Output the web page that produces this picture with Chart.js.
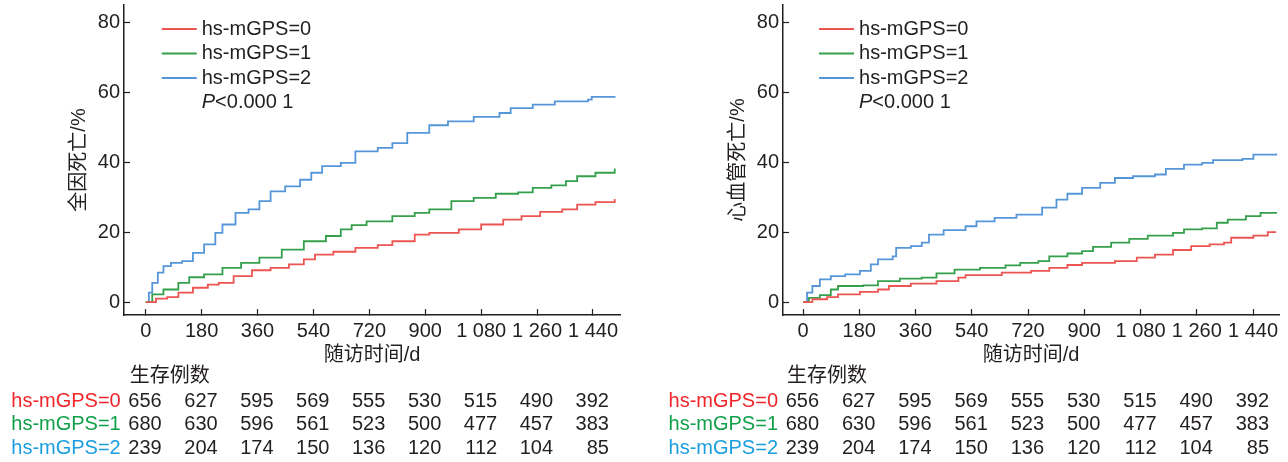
<!DOCTYPE html>
<html>
<head>
<meta charset="utf-8">
<script src="https://cdn.jsdelivr.net/npm/chart.js@4.4.0/dist/chart.umd.min.js"></script>
<style>
html, body { margin: 0; padding: 0; background: #fff; }
#wrap { position: relative; width: 1288px; height: 462px; }
.panel { position: absolute; top: 0; height: 462px; }
#p1 { left: 0; width: 640px; }
#p2 { left: 640px; width: 648px; }
</style>
</head>
<body>
<div id="wrap">
  <div class="panel" id="p1"><canvas id="c1"></canvas></div>
  <div class="panel" id="p2"><canvas id="c2"></canvas></div>
</div>
<script>
// groups / legend
const groups = ['hs-mGPS=0', 'hs-mGPS=1', 'hs-mGPS=2'];
const lineColors = ['#ec5551', '#34a04c', '#5596d9'];
const labelColors = ['#f0262b', '#10a04a', '#1a9ee0'];
const pText = '<0.000 1';

// follow-up time ticks (days)
const xTicks = [0, 180, 360, 540, 720, 900, 1080, 1260, 1440];
const yTicks = [0, 20, 40, 60, 80];

// number at risk
const riskTitle = '生存例数';
const risk0 = [656, 627, 595, 569, 555, 530, 515, 490, 392];
const risk1 = [680, 630, 596, 561, 523, 500, 477, 457, 383];
const risk2 = [239, 204, 174, 150, 136, 120, 112, 104, 85];

// all-cause death, cumulative %
const allDays0 = [0, 33, 69, 105, 152, 200, 235, 283, 342, 402, 461, 509, 545, 604, 675, 747, 794, 866, 913, 1008, 1080, 1151, 1210, 1270, 1341, 1389, 1448, 1510];
const allPct0  = [0, 1.0, 1.4, 2.7, 4.1, 5.0, 5.5, 7.4, 9.1, 9.8, 10.8, 12.2, 13.6, 14.4, 15.5, 16.3, 17.4, 19.3, 19.8, 20.8, 22.2, 23.6, 24.6, 25.8, 26.5, 27.9, 28.6, 29.5];
const allDays1 = [0, 21, 57, 105, 140, 188, 247, 307, 366, 438, 509, 580, 628, 663, 711, 794, 866, 913, 984, 1056, 1127, 1199, 1246, 1306, 1353, 1389, 1448, 1510];
const allPct1  = [0, 2.2, 3.6, 5.5, 7.1, 7.9, 9.8, 11.2, 12.7, 15.0, 17.4, 18.9, 20.8, 22.0, 23.1, 24.6, 25.5, 26.5, 28.9, 29.8, 31.0, 31.4, 32.7, 33.4, 34.6, 36.0, 37.0, 38.2];
const allDays2 = [0, 10, 21, 39, 57, 81, 117, 152, 188, 224, 247, 289, 331, 366, 402, 449, 497, 533, 568, 628, 675, 747, 794, 842, 913, 973, 1056, 1139, 1175, 1246, 1317, 1424, 1436, 1510];
const allPct2  = [0, 2.7, 5.5, 8.4, 10.3, 11.2, 11.7, 14.1, 16.5, 19.8, 22.2, 25.5, 26.5, 28.9, 31.7, 33.1, 35.0, 37.0, 38.9, 39.8, 43.1, 44.1, 45.5, 48.4, 50.6, 51.7, 53.0, 54.1, 55.5, 56.5, 57.4, 57.9, 58.7, 58.9];

// cardiovascular death, cumulative %
const cvDays0 = [0, 30, 77, 112, 182, 240, 275, 345, 427, 497, 520, 636, 730, 788, 846, 893, 998, 1068, 1126, 1184, 1242, 1301, 1347, 1370, 1441, 1487, 1514];
const cvPct0  = [0, 0.8, 1.4, 2.2, 2.9, 3.6, 4.6, 5.3, 6.0, 7.0, 7.7, 8.4, 8.9, 9.8, 10.6, 11.2, 11.7, 12.7, 13.6, 14.9, 16.0, 16.5, 17.0, 18.4, 19.0, 20.0, 20.0];
const cvDays1 = [0, 19, 54, 89, 112, 193, 240, 310, 380, 427, 485, 566, 648, 695, 753, 788, 846, 893, 928, 986, 1044, 1103, 1184, 1219, 1277, 1324, 1359, 1417, 1464, 1514];
const cvPct1  = [0, 1.2, 2.0, 3.6, 4.6, 4.8, 6.0, 6.7, 7.0, 8.2, 9.3, 9.8, 10.5, 11.2, 11.7, 13.1, 13.9, 14.6, 15.8, 17.0, 18.1, 19.0, 19.8, 20.8, 21.1, 22.7, 23.6, 24.6, 25.5, 25.8];
const cvDays2 = [0, 13, 30, 54, 89, 135, 182, 217, 240, 287, 298, 345, 380, 403, 450, 520, 555, 613, 683, 765, 811, 846, 893, 951, 998, 1056, 1126, 1161, 1219, 1277, 1312, 1406, 1441, 1514];
const cvPct2  = [0, 2.7, 4.6, 6.5, 7.4, 7.9, 8.9, 10.8, 12.2, 13.1, 15.5, 16.0, 17.0, 19.3, 20.6, 21.7, 23.1, 24.1, 25.0, 27.0, 29.3, 31.0, 32.7, 34.1, 35.5, 36.0, 36.5, 38.1, 39.3, 39.8, 40.6, 41.0, 42.2, 42.5];

const ink = '#231f20';
const FAMILY = '"Liberation Sans", Arial, "Noto Sans CJK SC", sans-serif';
const font = { family: FAMILY, size: 20 };

function toPoints(days, pct) {
    return days.map((d, i) => ({ x: d, y: pct[i] }));
}

function fmtDay(v) {
    if (v >= 1000) return Math.floor(v / 1000) + ' ' + String(v % 1000).padStart(3, '0');
    return String(v);
}

// legend, P value and number-at-risk table
const overlay = {
    id: 'overlay',
    afterDraw(chart) {
        const ctx = chart.ctx;
        const xs = chart.scales.x;
        const x0 = xs.getPixelForValue(0);
        ctx.save();
        ctx.font = `20px ${FAMILY}`;
        ctx.textBaseline = 'middle';

        groups.forEach((g, i) => {
            const y = 29 + i * 24.5;
            ctx.strokeStyle = lineColors[i];
            ctx.lineWidth = 2;
            ctx.beginPath();
            ctx.moveTo(x0 + 16, y);
            ctx.lineTo(x0 + 51, y);
            ctx.stroke();
            ctx.fillStyle = ink;
            ctx.textAlign = 'left';
            ctx.fillText(g, x0 + 56, y);
        });
        const py = 29 + 3 * 24.5;
        ctx.font = `italic 20px ${FAMILY}`;
        ctx.fillText('P', x0 + 56, py);
        const pw = ctx.measureText('P').width;
        ctx.font = `20px ${FAMILY}`;
        ctx.fillText(pText, x0 + 56 + pw, py);

        // risk table
        ctx.fillStyle = ink;
        ctx.textAlign = 'left';
        ctx.fillText(riskTitle, x0 - 16, 376);
        [risk0, risk1, risk2].forEach((row, i) => {
            const y = 401 + i * 23.6;
            ctx.textAlign = 'right';
            ctx.fillStyle = labelColors[i];
            ctx.fillText(groups[i], x0 - 25, y);
            ctx.fillStyle = ink;
            row.forEach((n, j) => {
                ctx.fillText(String(n), xs.getPixelForValue(xTicks[j]) + 16, y);
            });
        });
        ctx.restore();
    }
};

function makeChart(canvasId, series, yTitle, xMin, xMax, padLeft, padRight) {
    const datasets = series.map((s, i) => ({
        label: groups[i],
        data: toPoints(s[0], s[1]),
        borderColor: lineColors[i],
        borderWidth: 1.8,
        stepped: 'before',
        pointRadius: 0,
        fill: false,
    }));
    const axisGrid = { display: true, drawOnChartArea: false, tickLength: -6, tickWidth: 1.2, tickColor: ink };
    const axisBorder = { display: true, color: ink, width: 1.5 };
    return new Chart(document.getElementById(canvasId), {
        type: 'line',
        data: { datasets },
        plugins: [overlay],
        options: {
            responsive: true,
            maintainAspectRatio: false,
            animation: false,
            layout: { padding: { left: padLeft, right: padRight, top: 5, bottom: 95 } },
            plugins: { legend: { display: false }, tooltip: { enabled: false } },
            scales: {
                x: {
                    type: 'linear',
                    min: xMin,
                    max: xMax,
                    afterBuildTicks: (s) => { s.ticks = xTicks.map((v) => ({ value: v })); },
                    afterFit: (s) => { s.height = 52; s.paddingLeft = 0; s.paddingRight = 0; },
                    grid: axisGrid,
                    border: axisBorder,
                    ticks: { padding: 10, font, color: ink, maxRotation: 0, autoSkip: false, callback: (v) => fmtDay(v) },
                    title: { display: true, text: '随访时间/d', font, color: ink, padding: 0 },
                },
                y: {
                    min: -3.7,
                    max: 85,
                    afterBuildTicks: (s) => { s.ticks = yTicks.map((v) => ({ value: v })); },
                    afterFit: (s) => { s.width = 57; s.paddingTop = 0; s.paddingBottom = 0; },
                    grid: axisGrid,
                    border: axisBorder,
                    ticks: { padding: 10, font, color: ink },
                    title: { display: true, text: yTitle, font, color: ink, padding: 0 },
                },
            },
        },
    });
}

makeChart('c1', [[allDays0, allPct0], [allDays1, allPct1], [allDays2, allPct2]], '全因死亡/%', -70, 1527, 67, 20);
makeChart('c2', [[cvDays0, cvPct0], [cvDays1, cvPct1], [cvDays2, cvPct2]], '心血管死亡/%', -64, 1523, 86, 9);
</script>
</body>
</html>
